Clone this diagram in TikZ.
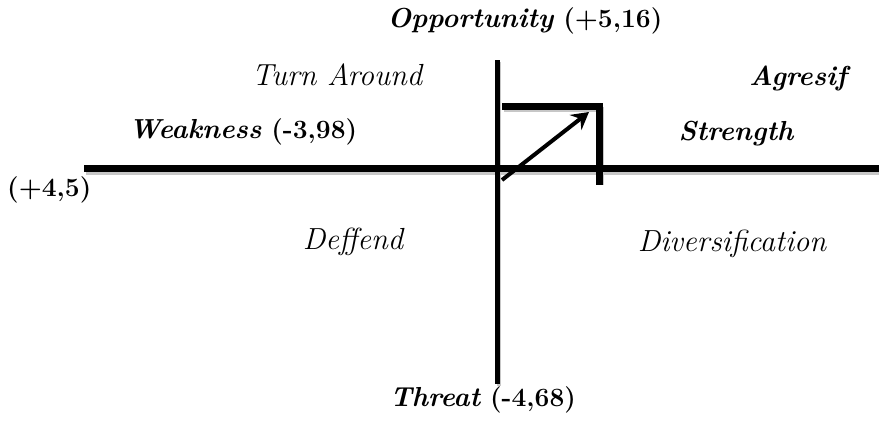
\documentclass[tikz,border=0pt]{standalone}
\usepackage{fontspec}
\usetikzlibrary{arrows.meta}
\newcommand{\bitw}[1]{{\fontsize{27.5}{32}\selectfont\bfseries\itshape #1}}
\begin{document}
\begin{tikzpicture}[x=1pt,y=-1pt,
  lbl/.style={inner sep=0pt,anchor=base,font=\fontsize{26.4}{31}\selectfont\bfseries},
  bi/.style={lbl,font=\fontsize{27.5}{32}\selectfont\bfseries\itshape},
  it/.style={lbl,font=\fontsize{30.5}{36}\selectfont\itshape},
  axis/.style={line width=7pt,black},
  shadow/.style={line width=6pt,black!22},
  thinaxis/.style={line width=5pt,black}]
\useasboundingbox (0,0) rectangle (879,424);
% coordinates
\coordinate (hl) at (84,168);
\coordinate (hr) at (879,168);
\coordinate (vt) at (497,60);
\coordinate (vb) at (497,384);
\coordinate (bl) at (502,106);
\coordinate (bc) at (599,106);
\coordinate (bb) at (599,185);
\coordinate (as) at (502,180);
\coordinate (ae) at (589,112);
% shadows
\draw[shadow] ([shift={(2,4)}]hl) -- ([shift={(0,4)}]hr);
\draw[shadow,line width=4pt] ([shift={(2,2)}]vt) -- ([shift={(2,2)}]vb);
\draw[shadow,line width=5pt] ([shift={(2,3)}]bl) -- ([shift={(2,3)}]bc) -- ([shift={(2,0)}]bb);
% axes
\draw[axis] (hl) -- (hr);
\draw[thinaxis] (vt) -- (vb);
% box corner
\draw[line width=7pt,miter limit=10] (bl) -- (bc) -- (bb);
% arrow
\draw[line width=4pt,-{Stealth[length=17pt,width=19pt,inset=6pt]}] (as) -- (ae);
% labels
\node[lbl] (opp) at (525,27) {\bitw{Opportunity} (+5,16)};
\node[it] (ta) at (337,85) {Turn Around};
\node[bi] (ag) at (798,85) {Agresif};
\node[lbl] (wk) at (243,138) {\bitw{Weakness} (-3,98)};
\node[bi] (st) at (736,140) {Strength};
\node[lbl,anchor=base west] (w45) at (7,196) {(+4,5)};
\node[it] (df) at (353,249) {Deffend};
\node[it] (dv) at (732,251) {Diversification};
\node[lbl] (th) at (483,406) {\bitw{Threat} (-4,68)};
\end{tikzpicture}
\end{document}
